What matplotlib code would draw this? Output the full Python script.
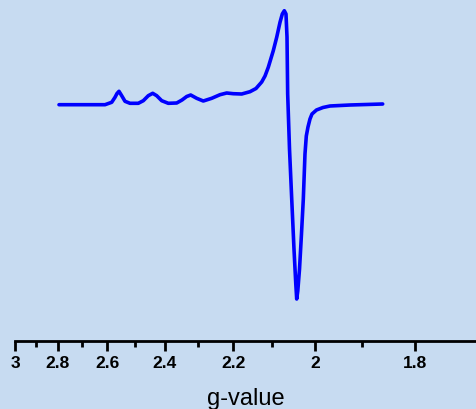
import numpy as np
import matplotlib
matplotlib.use("Agg")
import matplotlib.pyplot as plt
from matplotlib.ticker import FixedLocator, FixedFormatter

# EPR spectrum: g-values and derivative intensity (arb. units)
g_values = [2.7950, 2.7068, 2.6277, 2.6087, 2.5836, 2.5714, 2.5641, 2.5568, 2.5470, 2.5352,
            2.5175, 2.4886, 2.4715, 2.4547, 2.4400, 2.4269, 2.4106, 2.3895, 2.3632, 2.3468,
            2.3325, 2.3205, 2.3027, 2.2834, 2.2593, 2.2360, 2.2176, 2.1997, 2.1773, 2.1557,
            2.1403, 2.1259, 2.1176, 2.1095, 2.0972, 2.0889, 2.0809, 2.0754, 2.0706, 2.0666,
            2.0642, 2.0626, 2.0583, 2.0531, 2.0478, 2.0436, 2.0415, 2.0390, 2.0350, 2.0305,
            2.0263, 2.0225, 2.0195, 2.0157, 2.0112, 2.0067, 1.9967, 1.9824, 1.9672, 1.9251,
            1.8601]
intensity = [-0.7, -0.7, -0.7, -0.7, 1.7, 6.7, 10.5, 12.7, 8.3, 2.7,
             0.7, 0.7, 3.3, 8.3, 10.7, 8.3, 3.3, 0.7, 1.0, 4.0,
             7.5, 9.0, 5.7, 3.0, 5.7, 9.3, 11.0, 10.3, 10.0, 12.3,
             15.5, 22.0, 28.0, 36.7, 53.3, 66.7, 81.7, 90.0, 93.3, 90.0,
             67.0, 10.0, -45.0, -95.0, -145.0, -180.0, -195.0, -187.0, -165.0, -130.0,
             -95.0, -50.0, -32.0, -23.0, -15.0, -10.0, -6.0, -3.5, -2.0, -1.0,
             0.0]

major_ticks = [3, 2.8, 2.6, 2.4, 2.2, 2, 1.8]
major_labels = ["3", "2.8", "2.6", "2.4", "2.2", "2", "1.8"]
minor_ticks = [2.9, 2.7, 2.5, 2.3, 2.1, 1.9]
x_label = "g-value"

bg = "#c7dbf1"
fig = plt.figure(figsize=(4.76, 4.10), dpi=100, facecolor=bg)
ax = fig.add_axes([15/476, 68/410, 461/476, 342/410])
ax.set_facecolor(bg)

ax.set_xscale("function", functions=(lambda g: -1.0/np.asarray(g, dtype=float),
                                     lambda u: -1.0/np.asarray(u, dtype=float)))
ax.plot(g_values, intensity, color="#0000ff", lw=2.6, solid_joinstyle="round",
        solid_capstyle="round")
ax.set_xlim(3.0, 1.6965)
ax.set_ylim(-237, 105)

for s in ("top", "left", "right"):
    ax.spines[s].set_visible(False)
ax.spines["bottom"].set_linewidth(2)
ax.set_yticks([])
ax.xaxis.set_major_locator(FixedLocator(major_ticks))
ax.xaxis.set_major_formatter(FixedFormatter(major_labels))
ax.xaxis.set_minor_locator(FixedLocator(minor_ticks))
ax.xaxis.set_minor_formatter(FixedFormatter([""] * len(minor_ticks)))
ax.tick_params(axis="x", which="major", direction="out", length=7, width=2, pad=3)
ax.tick_params(axis="x", which="minor", direction="out", length=4, width=2)
for lab in ax.get_xticklabels():
    lab.set_fontfamily("Liberation Sans")
    lab.set_fontweight("bold")
    lab.set_fontsize(12.5)
ax.set_xlabel(x_label, fontfamily="Liberation Sans", fontsize=17, labelpad=12)

fig.savefig("out.png", dpi=100, facecolor=bg)
